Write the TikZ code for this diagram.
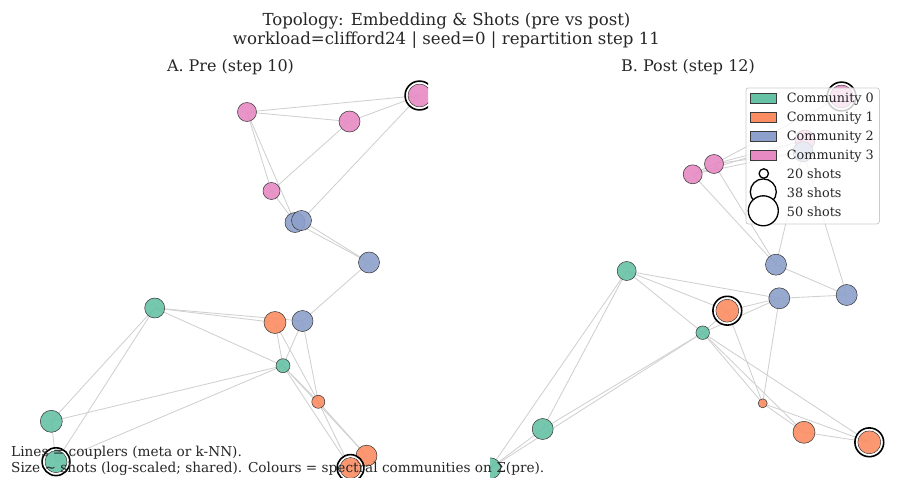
\documentclass[tikz,border=0pt]{standalone}
\usepackage{fontspec}
\setmainfont{DejaVu Serif}
\pgfdeclarelayer{edgelayer}
\pgfsetlayers{edgelayer,main}
\definecolor{cg}{HTML}{66C2A5}
\definecolor{co}{HTML}{FC8D62}
\definecolor{cb}{HTML}{8DA0CB}
\definecolor{cp}{HTML}{E78AC3}
\definecolor{edgegray}{HTML}{D0D0D0}
\definecolor{nodeedge}{HTML}{3A3A3A}
\definecolor{txt}{HTML}{262626}
\tikzset{
  vert/.style={circle, inner sep=0pt, draw=nodeedge, line width=0.55pt, fill opacity=0.9, minimum size=#1},
  coupler/.style={draw=edgegray, line width=0.85pt},
  halo/.style={draw=white, line width=1.3pt},
  shotring/.style={draw=black, line width=1.6pt},
  legbox/.style={draw=black!20, line width=0.8pt, fill=white, fill opacity=0.8, rounded corners=2.5pt},
  legpatch/.style={draw=nodeedge, line width=0.8pt},
  legtext/.style={anchor=base west, inner sep=0pt, font=\fontsize{12.8}{14}\selectfont, text=txt},
  legcirc/.style={draw=black, line width=1.3pt, fill=white},
  ttl/.style={anchor=base, inner sep=0pt, font=\fontsize{16.6}{19}\selectfont, text=txt},
  subttl/.style={anchor=base, inner sep=0pt, font=\fontsize{16}{18}\selectfont, text=txt},
  note/.style={anchor=base west, inner sep=0pt, font=\fontsize{13.65}{16}\selectfont, text=txt}
}
\begin{document}
\begin{tikzpicture}[x=1pt,y=-1pt]
\useasboundingbox (0,0) rectangle (897,488);

% ---------- titles ----------
\node[ttl] (t1) at (446.5,25.7) {Topology: Embedding \& Shots (pre vs post)};
\node[ttl] (t2) at (446.5,44.8) {workload=clifford24 | seed=0 | repartition step 11};
\node[subttl] (sa) at (230.5,71) {A. Pre (step 10)};
\node[subttl] (sb) at (688,71) {B. Post (step 12)};

% ---------- panel A ----------
\begin{scope}
\clip (32,77) rectangle (428,477);
\node[vert=19pt, fill=cp] (P1) at (247,112) {};
\node[vert=21pt, fill=cp] (P2) at (349.5,121.5) {};
\node[vert=23pt, fill=cp] (P3) at (419.5,95.5) {};
\node[vert=17pt, fill=cp] (P4) at (271.5,191) {};
\node[vert=20pt, fill=cb] (B1) at (295,222.5) {};
\node[vert=20pt, fill=cb] (B2) at (301.5,220.5) {};
\node[vert=21pt, fill=cb] (B3) at (369,262.5) {};
\node[vert=21pt, fill=cb] (B4) at (302.5,321) {};
\node[vert=22pt, fill=co] (O1) at (275,322.5) {};
\node[vert=13pt, fill=co] (O2) at (318.3,401.8) {};
\node[vert=21pt, fill=co] (O4) at (350.5,468) {};
\node[vert=21pt, fill=co] (O3) at (366.5,455.7) {};
\node[vert=20pt, fill=cg] (G1) at (154.7,308) {};
\node[vert=14pt, fill=cg] (G2) at (283,365.7) {};
\node[vert=22pt, fill=cg] (G3) at (51.3,421.3) {};
\node[vert=22pt, fill=cg] (G4) at (56,461.7) {};
\foreach \n/\r in {P3/11.5, O4/10.5, G4/11}{
  \draw[halo] (\n.center) circle ({\r+1.3});
  \draw[shotring] (\n.center) circle ({\r+2.9});
}
\end{scope}
\begin{pgfonlayer}{edgelayer}
\begin{scope}
\clip (32,77) rectangle (428,477);
\foreach \a/\b in {P1/P3, P1/P2, P2/P3, P2/P4, P3/B2, P1/P4, P1/B1, P4/B1,
  B1/B3, B2/B3, B3/B4, G1/O1, G1/B4, G1/G2, G1/G3, G1/G4, G2/G3, G2/G4,
  G3/G4, O1/G2, O1/O2, B4/G2, B4/O2, G2/O2, G2/O3, G2/O4, O2/O3, O2/O4, O3/O4}
  \draw[coupler] (\a.center) -- (\b.center);
\end{scope}
\end{pgfonlayer}

% ---------- panel B ----------
\begin{scope}
\clip (490,77) rectangle (886,477);
\node[vert=19pt, fill=cp] (rP1) at (692.7,174.3) {};
\node[vert=19pt, fill=cp] (rP2) at (714,164) {};
\node[vert=20pt, fill=cp] (rP3) at (805,140) {};
\node[vert=23pt, fill=cp] (rP4) at (841.5,96.5) {};
\node[vert=20pt, fill=cb] (rB1) at (803,151.7) {};
\node[vert=21pt, fill=cb] (rB2) at (776,264.7) {};
\node[vert=21pt, fill=cb] (rB3) at (779.3,298.3) {};
\node[vert=21pt, fill=cb] (rB4) at (846.7,295) {};
\node[vert=23pt, fill=co] (rO1) at (727.3,310.7) {};
\node[vert=9pt, fill=co] (rO2) at (762.7,403.3) {};
\node[vert=22pt, fill=co] (rO3) at (804,432.3) {};
\node[vert=23pt, fill=co] (rO4) at (869.3,442.3) {};
\node[vert=19pt, fill=cg] (rG1) at (626.7,271) {};
\node[vert=13.5pt, fill=cg] (rG2) at (702.7,332.7) {};
\node[vert=21pt, fill=cg] (rG3) at (542.7,429) {};
\node[vert=21pt, fill=cg] (rG4) at (490.3,468.3) {};
\foreach \n/\r in {rP4/11.5, rO1/11.5, rO4/11.5}{
  \draw[halo] (\n.center) circle ({\r+1.3});
  \draw[shotring] (\n.center) circle ({\r+2.9});
}
\end{scope}
\begin{pgfonlayer}{edgelayer}
\begin{scope}
\clip (490,77) rectangle (886,477);
\foreach \a/\b in {rP1/rP2, rP1/rP3, rP2/rP3, rP2/rB1, rP1/rB1, rP2/rP4,
  rP1/rB2, rP2/rB2, rB2/rB1, rB4/rB1, rB2/rB4, rB3/rB4, rG1/rB3, rG1/rO1,
  rG1/rG2, rG1/rG3, rG1/rG4, rO1/rB3, rG2/rB3, rG2/rO1, rG2/rG3, rG2/rG4,
  rG3/rG4, rG2/rO2, rG2/rO3, rG2/rO4, rO1/rO2, rB3/rO2, rO2/rO3, rO2/rO4, rO3/rO4}
  \draw[coupler] (\a.center) -- (\b.center);
\end{scope}
\end{pgfonlayer}

% ---------- legend ----------
\node[legbox, minimum width=133.5pt, minimum height=136pt, anchor=north west, inner sep=0pt] (leg) at (745.5,87.5) {};
\foreach \i/\c in {0/cg, 1/co, 2/cb, 3/cp}{
  \draw[legpatch, fill=\c] (750.3,{93.3+19.05*\i}) rectangle (776.5,{103.3+19.05*\i});
  \node[legtext] (lc\i) at (786.7,{102.5+19.05*\i}) {Community \i};
}
\node[legcirc, circle, inner sep=0pt, minimum size=9.4pt] (s20) at (763.8,173.5) {};
\node[legcirc, circle, inner sep=0pt, minimum size=26pt] (s38) at (763.3,191.9) {};
\node[legcirc, circle, inner sep=0pt, minimum size=30pt] (s50) at (763.3,210.8) {};
\node[legtext] (l20) at (786.7,178.7) {20 shots};
\node[legtext] (l38) at (786.7,197.7) {38 shots};
\node[legtext] (l50) at (786.7,216.7) {50 shots};

% ---------- notes ----------
\node[note] (n1) at (11,456.7) {Lines = couplers (meta or k-NN).};
\node[note] (n2) at (11,472.7) {Size \textasciitilde{} shots (log-scaled; shared). Colours = spectral communities on Σ(pre).};
\end{tikzpicture}
\end{document}
